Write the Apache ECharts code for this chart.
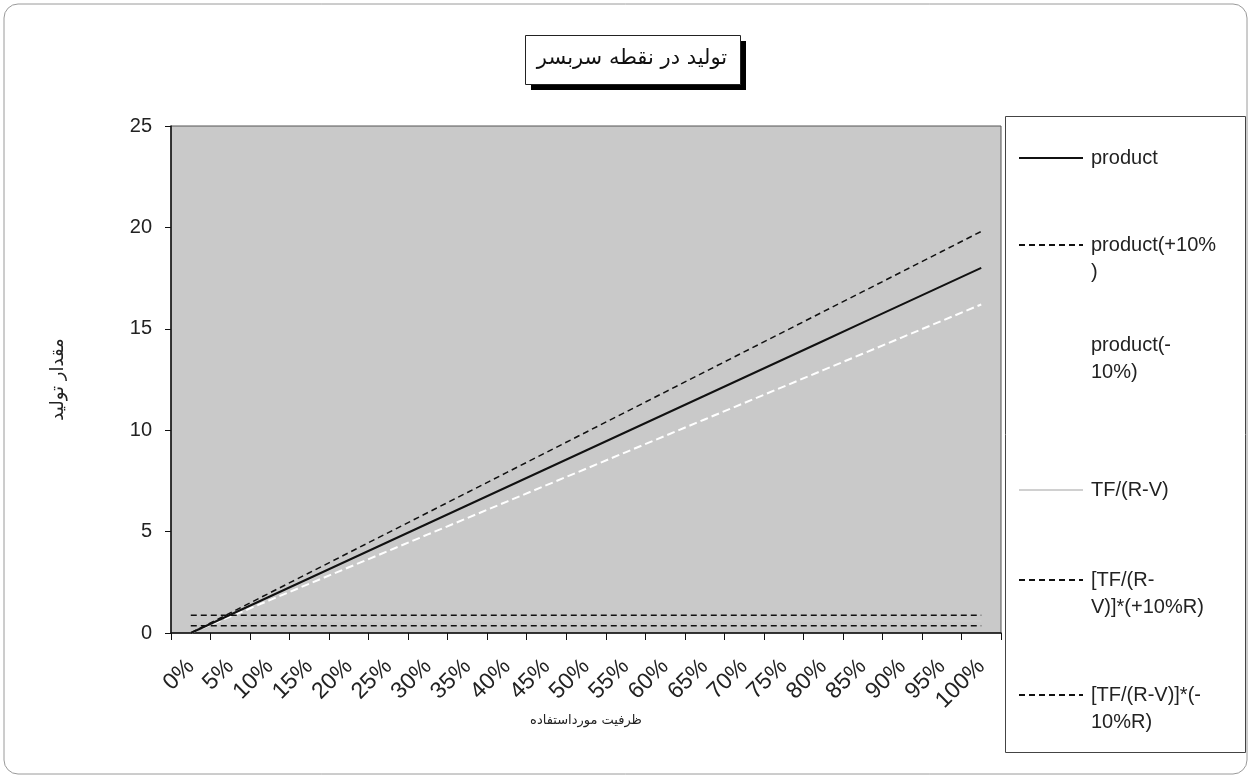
<!DOCTYPE html>
<html>
<head>
<meta charset="utf-8">
<script src="https://cdn.jsdelivr.net/npm/echarts@6/dist/echarts.min.js"></script>
<style>
  html, body { margin: 0; padding: 0; background: #fff; }
  #chart { width: 1252px; height: 780px; }
</style>
</head>
<body>
<div id="chart"></div>
<script>
// x categories (capacity used)
var categories = ['0%', '5%', '10%', '15%', '20%', '25%', '30%', '35%', '40%', '45%', '50%',
  '55%', '60%', '65%', '70%', '75%', '80%', '85%', '90%', '95%', '100%'];

// values
var product = [0, 0.9, 1.8, 2.7, 3.6, 4.5, 5.4, 6.3, 7.2, 8.1, 9, 9.9, 10.8, 11.7, 12.6, 13.5, 14.4, 15.3, 16.2, 17.1, 18];
var productPlus = [0, 0.99, 1.98, 2.97, 3.96, 4.95, 5.94, 6.93, 7.92, 8.91, 9.9, 10.89, 11.88, 12.87, 13.86, 14.85, 15.84, 16.83, 17.82, 18.81, 19.8];
var productMinus = [0, 0.81, 1.62, 2.43, 3.24, 4.05, 4.86, 5.67, 6.48, 7.29, 8.1, 8.91, 9.72, 10.53, 11.34, 12.15, 12.96, 13.77, 14.58, 15.39, 16.2];
var breakEven = [0.6, 0.6, 0.6, 0.6, 0.6, 0.6, 0.6, 0.6, 0.6, 0.6, 0.6, 0.6, 0.6, 0.6, 0.6, 0.6, 0.6, 0.6, 0.6, 0.6, 0.6];
var breakEvenPlusR = [0.87, 0.87, 0.87, 0.87, 0.87, 0.87, 0.87, 0.87, 0.87, 0.87, 0.87, 0.87, 0.87, 0.87, 0.87, 0.87, 0.87, 0.87, 0.87, 0.87, 0.87];
var breakEvenMinusR = [0.36, 0.36, 0.36, 0.36, 0.36, 0.36, 0.36, 0.36, 0.36, 0.36, 0.36, 0.36, 0.36, 0.36, 0.36, 0.36, 0.36, 0.36, 0.36, 0.36, 0.36];

var names = ['product', 'product(+10%)', 'product(-10%)', 'TF/(R-V)', '[TF/(R-V)]*(+10%R)', '[TF/(R-V)]*(-10%R)'];
// how each legend entry wraps in the legend box
var legendText = {
  'product': 'product',
  'product(+10%)': 'product(+10%\n)',
  'product(-10%)': 'product(-\n10%)',
  'TF/(R-V)': 'TF/(R-V)',
  '[TF/(R-V)]*(+10%R)': '[TF/(R-\nV)]*(+10%R)',
  '[TF/(R-V)]*(-10%R)': '[TF/(R-V)]*(-\n10%R)'
};
var legendCenters = [158, 245, 345, 490, 580, 695];

var font = 'Liberation Sans, Arial, sans-serif';
var faFont = 'DejaVu Sans, sans-serif';
var lh = 27;

var legends = [];
for (var i = 0; i < names.length; i++) {
  var twoLines = legendText[names[i]].indexOf('\n') >= 0;
  legends.push({
    left: 1018,
    top: twoLines ? legendCenters[i] - lh * 1.5 : legendCenters[i] - lh / 2,
    padding: 0,
    itemWidth: 64,
    itemHeight: 14,
    itemGap: 0,
    selectedMode: false,
    itemStyle: { opacity: 0 },
    data: [names[i]],
    // blank first line keeps the icon level with the first text line
    formatter: function (n) {
      var t = legendText[n];
      return t.indexOf('\n') >= 0 ? ' \n' + t : t;
    },
    textStyle: {
      fontFamily: font,
      fontSize: 20,
      color: '#222',
      lineHeight: lh,
      padding: [0, 0, 0, 3]
    }
  });
}

var myChart = echarts.init(document.getElementById('chart'));
var option = {
  animation: false,
  backgroundColor: '#fff',
  title: {
    text: 'تولید در نقطه سربسر',
    left: 632,
    top: 59,
    textAlign: 'center',
    textVerticalAlign: 'middle',
    padding: 0,
    z: 20,
    textStyle: {
      fontFamily: faFont,
      fontSize: 21,
      fontWeight: 'normal',
      color: '#111'
    }
  },
  graphic: [
    {
      type: 'rect',
      z: -10,
      shape: { x: 4, y: 4, width: 1243, height: 770, r: 14 },
      style: { fill: 'none', stroke: '#9a9a9a', lineWidth: 1 }
    },
    {
      type: 'rect',
      z: 10,
      shape: { x: 531, y: 41, width: 215, height: 49 },
      style: { fill: '#000' }
    },
    {
      type: 'rect',
      z: 11,
      shape: { x: 525.5, y: 35.5, width: 215, height: 49 },
      style: { fill: '#fff', stroke: '#222', lineWidth: 1 }
    },
    {
      type: 'rect',
      z: -5,
      shape: { x: 1005.5, y: 116.5, width: 240, height: 636 },
      style: { fill: '#fff', stroke: '#444', lineWidth: 1 }
    }
  ],
  legend: legends,
  grid: {
    left: 171,
    right: 251,
    top: 126,
    bottom: 147,
    show: true,
    backgroundColor: '#c9c9c9',
    borderColor: '#555',
    borderWidth: 1
  },
  xAxis: {
    type: 'category',
    data: categories,
    boundaryGap: true,
    name: 'ظرفیت مورداستفاده',
    nameLocation: 'middle',
    nameGap: 81,
    nameMoveOverlap: false,
    nameTextStyle: { fontFamily: faFont, fontSize: 13, color: '#222' },
    axisLine: { lineStyle: { color: '#111', width: 1.5 } },
    axisTick: { show: true, alignWithLabel: false, length: 7, lineStyle: { color: '#111' } },
    axisLabel: {
      rotate: 45,
      interval: 0,
      margin: 30,
      fontFamily: font,
      fontSize: 23,
      color: '#222'
    },
    splitLine: { show: false }
  },
  yAxis: {
    type: 'value',
    min: 0,
    max: 25,
    interval: 5,
    name: 'مقدار تولید',
    nameLocation: 'middle',
    nameGap: 104,
    nameRotate: 90,
    nameTextStyle: { fontFamily: faFont, fontSize: 18, color: '#222' },
    axisLine: { show: true, lineStyle: { color: '#111', width: 1.5 } },
    axisTick: { show: true, length: 6, lineStyle: { color: '#111' } },
    axisLabel: { margin: 19, fontFamily: font, fontSize: 20, color: '#222' },
    splitLine: { show: false }
  },
  series: [
    {
      name: names[0], type: 'line', data: product, symbol: 'none', z: 5,
      lineStyle: { color: '#111', width: 2 }, itemStyle: { color: '#111' }
    },
    {
      name: names[1], type: 'line', data: productPlus, symbol: 'none', z: 4,
      lineStyle: { color: '#111', width: 1.5, type: [6, 4] }, itemStyle: { color: '#111' }
    },
    {
      name: names[2], type: 'line', data: productMinus, symbol: 'none', z: 3,
      lineStyle: { color: '#ffffff', width: 2, type: [8, 4] }, itemStyle: { color: '#fff' }
    },
    {
      name: names[3], type: 'line', data: breakEven, symbol: 'none', z: 2,
      lineStyle: { color: '#d0d0d0', width: 1 }, itemStyle: { color: '#d8d8d8' }
    },
    {
      name: names[4], type: 'line', data: breakEvenPlusR, symbol: 'none', z: 3,
      lineStyle: { color: '#111', width: 1.5, type: [6, 4] }, itemStyle: { color: '#111' }
    },
    {
      name: names[5], type: 'line', data: breakEvenMinusR, symbol: 'none', z: 3,
      lineStyle: { color: '#111', width: 1.5, type: [6, 4] }, itemStyle: { color: '#111' }
    }
  ]
};
myChart.setOption(option);
</script>
</body>
</html>
